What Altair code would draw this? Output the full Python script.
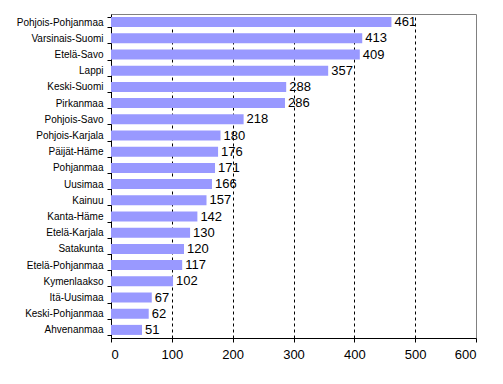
import altair as alt
import pandas as pd

regions = ["Pohjois-Pohjanmaa", "Varsinais-Suomi", "Etelä-Savo", "Lappi", "Keski-Suomi",
           "Pirkanmaa", "Pohjois-Savo", "Pohjois-Karjala", "Päijät-Häme", "Pohjanmaa",
           "Uusimaa", "Kainuu", "Kanta-Häme", "Etelä-Karjala", "Satakunta",
           "Etelä-Pohjanmaa", "Kymenlaakso", "Itä-Uusimaa", "Keski-Pohjanmaa", "Ahvenanmaa"]
values = [461, 413, 409, 357, 288, 286, 218, 180, 176, 171, 166, 157, 142, 130, 120,
          117, 102, 67, 62, 51]
x_ticks = [0, 100, 200, 300, 400, 500, 600]

df = pd.DataFrame({"region": regions, "value": values})
FONT = "Liberation Sans"

y_enc = alt.Y("region:N", sort=regions, title=None,
              scale=alt.Scale(paddingInner=0.38, paddingOuter=0.19),
              axis=alt.Axis(tickBand="extent", tickSize=4, tickColor="black",
                            domainColor="black", labelFontSize=10, labelFont=FONT,
                            labelColor="black", labelPadding=4, grid=False))
x_enc = alt.X("value:Q", title=None,
              scale=alt.Scale(domain=[0, 600], nice=False),
              axis=alt.Axis(values=x_ticks, tickSize=4, tickColor="black",
                            domainColor="black", labelFontSize=13, labelFont=FONT,
                            labelColor="black", labelPadding=6,
                            grid=True, gridColor="black", gridDash=[3, 3],
                            gridOpacity=alt.condition("datum.value == 0 || datum.value == 600",
                                                      alt.value(0), alt.value(1))))

bars = alt.Chart(df).mark_bar(color="#9999FF").encode(x=x_enc, y=y_enc)
labels = alt.Chart(df).mark_text(align="left", baseline="middle", dx=3, fontSize=13,
                                 font=FONT, color="black").encode(
    x=alt.X("value:Q"), y=alt.Y("region:N", sort=regions), text="value:Q")

chart = (bars + labels).properties(
    width=365, height=324,
    autosize=alt.AutoSizeParams(type="none"),
    padding={"left": 103, "top": 6, "right": 19, "bottom": 38},
).configure_view(stroke="#808080", strokeWidth=1)

chart.save("out.html", embed_options={"renderer": "svg", "actions": False})
